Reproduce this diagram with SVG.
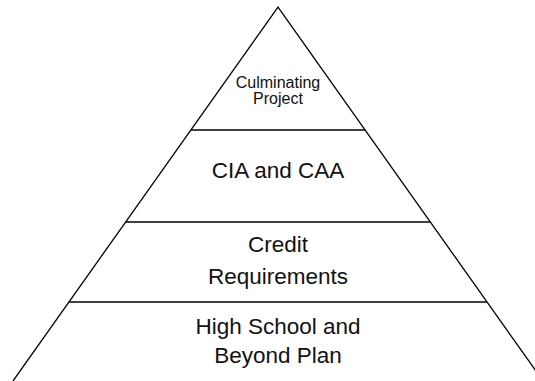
<svg xmlns="http://www.w3.org/2000/svg" width="535" height="381" viewBox="0 0 535 381">
<style>
.ln{stroke:#000;stroke-width:1.3;fill:none}
.t{font-family:"Liberation Sans","Open Sans",sans-serif;fill:#111;text-anchor:middle}
.b{font-size:22.5px}
.s{font-size:16px}
</style>
<rect width="535" height="381" fill="#fff"/>
<g id="pyramid">
<polyline class="ln" points="13,381 278,7 543,381"/>
</g>
<g id="connectors">
<line class="ln" x1="190.8" y1="130" x2="365.2" y2="130"/>
<line class="ln" x1="125.7" y1="222" x2="430.3" y2="222"/>
<line class="ln" x1="69" y1="302" x2="487" y2="302"/>
</g>
<g id="culminating">
<text class="t s" x="278" y="88">Culminating</text>
<text class="t s" x="278" y="104">Project</text>
</g>
<g id="cia">
<text class="t b" x="278" y="178">CIA and CAA</text>
</g>
<g id="credit">
<text class="t b" x="278" y="252">Credit</text>
<text class="t b" x="278" y="284">Requirements</text>
</g>
<g id="hsbp">
<text class="t b" x="278" y="334">High School and</text>
<text class="t b" x="278" y="363">Beyond Plan</text>
</g>
</svg>
